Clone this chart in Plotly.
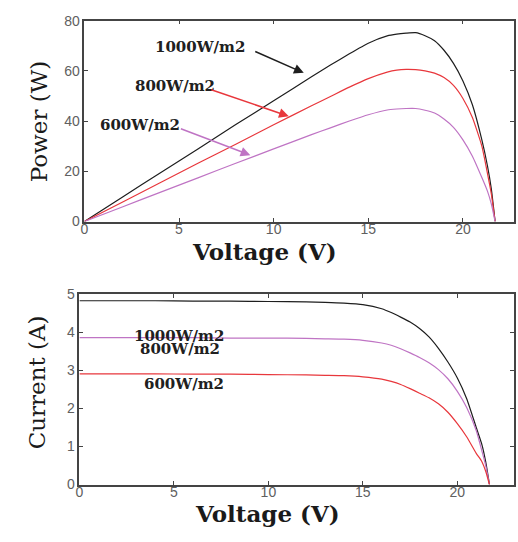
import plotly.graph_objects as go

# ---- data ----
voltage = [0, 2, 4, 6, 8, 10, 12, 13, 14, 15, 16, 16.5, 17, 17.5, 18, 18.5, 19, 19.5, 20, 20.5, 21, 21.3, 21.5, 21.7]

power_1000 = [0, 9.7, 19.3, 28.9, 38.6, 48.1, 57.6, 62.3, 66.8, 71.0, 73.9, 74.6, 75.0, 75.2, 74.0, 72.0, 68.2, 63.0, 56.0, 46.5, 32.5, 22.0, 13.0, 0]
power_800 = [0, 7.7, 15.4, 23.2, 30.8, 38.5, 46.1, 49.8, 53.5, 56.9, 59.5, 60.3, 60.6, 60.5, 60.0, 59.1, 57.3, 54.2, 49.0, 41.4, 30.0, 19.0, 11.0, 0]
power_600 = [0, 5.8, 11.6, 17.4, 23.2, 28.9, 34.6, 37.3, 40.0, 42.5, 44.4, 44.8, 45.0, 45.0, 44.3, 43.2, 40.8, 37.5, 32.5, 26.0, 17.5, 12.0, 7.0, 0]

current_1000 = [4.83, 4.83, 4.83, 4.82, 4.82, 4.81, 4.80, 4.79, 4.77, 4.73, 4.62, 4.52, 4.40, 4.27, 4.10, 3.88, 3.58, 3.22, 2.80, 2.25, 1.50, 1.05, 0.60, 0]
current_800 = [3.86, 3.86, 3.86, 3.86, 3.85, 3.85, 3.84, 3.83, 3.82, 3.79, 3.72, 3.66, 3.57, 3.46, 3.34, 3.20, 3.02, 2.78, 2.45, 2.02, 1.42, 0.88, 0.50, 0]
current_600 = [2.91, 2.91, 2.91, 2.90, 2.90, 2.89, 2.88, 2.87, 2.86, 2.83, 2.77, 2.71, 2.63, 2.52, 2.40, 2.28, 2.12, 1.90, 1.60, 1.25, 0.82, 0.60, 0.35, 0]

labels = ["1000W/m2", "800W/m2", "600W/m2"]
x_ticks = [0, 5, 10, 15, 20]
p_ticks = [0, 20, 40, 60, 80]
i_ticks = [0, 1, 2, 3, 4, 5]

BLACK = "#1e1e1e"
RED = "#e8373c"
PURPLE = "#bf74c4"
W, H = 518, 542

fig = go.Figure()

top_colors = [BLACK, RED, PURPLE]
for name, ys, c in zip(labels, [power_1000, power_800, power_600], top_colors):
    fig.add_trace(go.Scatter(x=voltage, y=ys, mode="lines", name=name,
                             line=dict(color=c, width=1.2, shape="spline", smoothing=0.5),
                             xaxis="x", yaxis="y", showlegend=False))

bot_colors = [BLACK, PURPLE, RED]
for name, ys, c in zip(labels, [current_1000, current_800, current_600], bot_colors):
    fig.add_trace(go.Scatter(x=voltage, y=ys, mode="lines", name=name,
                             line=dict(color=c, width=1.2, shape="spline", smoothing=0.5),
                             xaxis="x2", yaxis="y2", showlegend=False))

tickfont = dict(family="Liberation Sans, Arial", size=14, color="#606060")
axcommon = dict(showline=True, linecolor="#444444", linewidth=1.5, mirror="allticks",
                ticks="inside", ticklen=4, tickcolor="#444444", tickwidth=1,
                showgrid=False, zeroline=False, tickfont=tickfont)

fig.update_layout(
    width=W, height=H,
    margin=dict(l=0, r=0, t=0, b=0),
    paper_bgcolor="white", plot_bgcolor="white",
    xaxis=dict(domain=[81 / W, 514 / W], range=[0, 22.7], tickvals=x_ticks,
               anchor="y", ticklabelstandoff=-6, **axcommon),
    yaxis=dict(domain=[1 - 220 / H, 1 - 13 / H], range=[0, 80], tickvals=p_ticks,
               anchor="x", ticklabelstandoff=0, **axcommon),
    xaxis2=dict(domain=[76 / W, 514 / W], range=[0, 23.0], tickvals=x_ticks,
                anchor="y2", ticklabelstandoff=-6, **axcommon),
    yaxis2=dict(domain=[1 - 491 / H, 1 - 295 / H], range=[0, 5], tickvals=i_ticks,
                anchor="x2", ticklabelstandoff=0, **axcommon),
)

SERIF = "DejaVu Serif, Liberation Serif, serif"
lblfont = dict(family=SERIF, size=15, color="#202020", weight="bold")
annotations = []
# top labels
for txt, x, y in zip(labels, [6.09, 4.78, 2.94], [69.6, 53.8, 38.6]):
    annotations.append(dict(x=x, y=y, xref="x", yref="y", text=txt, showarrow=False,
                            xanchor="center", yanchor="middle", font=lblfont))
# top arrows
for c, x, y, ax, ay in zip(top_colors, [11.59, 10.8, 8.77], [59.2, 41.9, 26.4],
                           [-50, -79, -71], [-22, -27, -27]):
    annotations.append(dict(x=x, y=y, xref="x", yref="y", ax=ax, ay=ay, text="",
                            showarrow=True, arrowhead=2, arrowsize=1.3, arrowwidth=1.5,
                            arrowcolor=c))
# bottom labels
for txt, x, y in zip(labels, [5.25, 5.31, 5.52], [3.90, 3.55, 2.65]):
    annotations.append(dict(x=x, y=y, xref="x2", yref="y2", text=txt, showarrow=False,
                            xanchor="center", yanchor="middle", font=lblfont))

ytitlefont = dict(family=SERIF, size=23, color="#1a1a1a")
xtitlefont = dict(family=SERIF, size=23, color="#1a1a1a", weight="bold")
annotations += [
    dict(x=35 / W, y=1 - 117 / H, xref="paper", yref="paper", text="Power (W)",
         textangle=-90, showarrow=False, xanchor="center", yanchor="middle", font=ytitlefont),
    dict(x=33 / W, y=1 - 386 / H, xref="paper", yref="paper", text="Current (A)",
         textangle=-90, showarrow=False, xanchor="center", yanchor="middle", font=ytitlefont),
    dict(x=263 / W, y=1 - 251 / H, xref="paper", yref="paper", text="Voltage (V)",
         showarrow=False, xanchor="center", yanchor="middle", font=xtitlefont),
    dict(x=266 / W, y=1 - 521 / H, xref="paper", yref="paper", text="Voltage (V)",
         showarrow=False, xanchor="center", yanchor="middle", font=xtitlefont),
]
fig.update_layout(annotations=annotations)

fig.write_html("out.html")
